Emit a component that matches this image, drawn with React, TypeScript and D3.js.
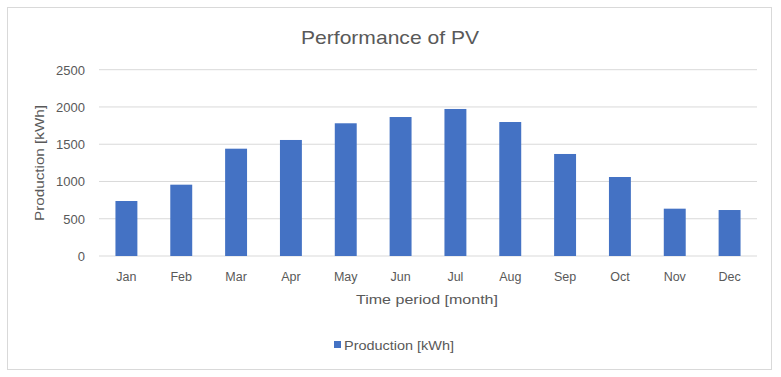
import React from "react";
import * as d3 from "d3";

const months = ["Jan", "Feb", "Mar", "Apr", "May", "Jun", "Jul", "Aug", "Sep", "Oct", "Nov", "Dec"];
const production = [738, 957, 1440, 1557, 1781, 1865, 1973, 1798, 1369, 1060, 635, 617];
const yTicks = [0, 500, 1000, 1500, 2000, 2500];

const W = 781;
const H = 377;
const plot = { left: 99, right: 757, top: 69.7, bottom: 256 };
const font = "'Liberation Sans', Arial, sans-serif";
const textColor = "#595959";

export default function App() {
  const x = d3.scaleBand<string>().domain(months).range([plot.left, plot.right]).paddingInner(0.6).paddingOuter(0.3);
  const y = d3.scaleLinear().domain([0, 2500]).range([plot.bottom, plot.top]);
  return (
    <svg width={W} height={H} style={{ position: "absolute", left: 0, top: 0, background: "#fff" }}>
      <rect x={7.5} y={7.5} width={764} height={362} fill="#fff" stroke="#d9d9d9" strokeWidth={1} />
      <text x={390} y={44} textAnchor="middle" fontFamily={font} fontSize={19} fill={textColor} textLength={178} lengthAdjust="spacingAndGlyphs">
        Performance of PV
      </text>
      {yTicks.map((t) => (
        <g key={t}>
          <line x1={plot.left} x2={plot.right} y1={y(t)} y2={y(t)} stroke="#d9d9d9" strokeWidth={1} />
          <text x={85} y={y(t) + 4.8} textAnchor="end" fontFamily={font} fontSize={13} fill={textColor}>
            {t}
          </text>
        </g>
      ))}
      {months.map((m, i) => (
        <g key={m}>
          <rect x={x(m)} y={y(production[i])} width={x.bandwidth()} height={y(0) - y(production[i])} fill="#4472C4" />
          <text x={(x(m) as number) + x.bandwidth() / 2} y={281} textAnchor="middle" fontFamily={font} fontSize={12.5} fill={textColor}>
            {m}
          </text>
        </g>
      ))}
      <text x={427} y={304} textAnchor="middle" fontFamily={font} fontSize={13.3} fill={textColor} textLength={142} lengthAdjust="spacingAndGlyphs">
        Time period [month]
      </text>
      <text transform={`translate(44,163) rotate(-90)`} textAnchor="middle" fontFamily={font} fontSize={13.3} fill={textColor} textLength={116} lengthAdjust="spacingAndGlyphs">
        Production [kWh]
      </text>
      <rect x={334} y={341} width={7} height={7} fill="#4472C4" />
      <text x={344} y={350} fontFamily={font} fontSize={12} fill={textColor} textLength={110} lengthAdjust="spacingAndGlyphs">
        Production [kWh]
      </text>
    </svg>
  );
}
